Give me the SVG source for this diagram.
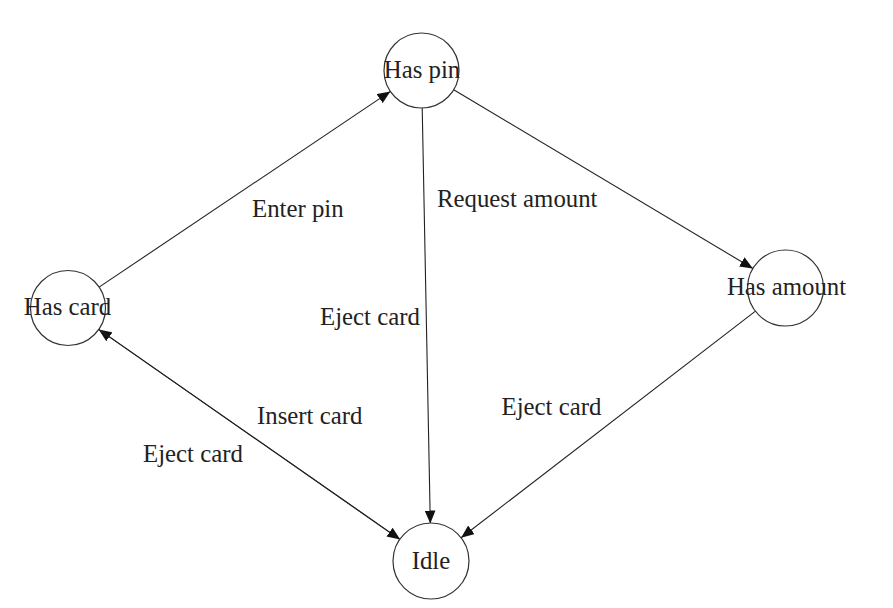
<svg xmlns="http://www.w3.org/2000/svg" width="893" height="608" viewBox="0 0 893 608">
<style>
.node circle{fill:#fff;stroke:#333;stroke-width:1.2}
text{font-family:"Liberation Serif","Times New Roman",serif;font-size:24.8px;fill:#222}
.node text{text-anchor:middle}
.edge line{stroke:#222;stroke-width:1.1;fill:none}
</style>
<defs>
<marker id="arr" markerUnits="userSpaceOnUse" markerWidth="13" markerHeight="11" refX="12" refY="5" orient="auto-start-reverse" viewBox="0 0 12 10">
<path d="M0,0 L12,5 L0,10 z" fill="#111"/>
</marker>
</defs>
<rect width="893" height="608" fill="#fff"/>
<g id="connectors" class="edge">
<line id="e-card-pin" x1="98.7" y1="287.4" x2="390.4" y2="91.4" marker-end="url(#arr)"/>
<line id="e-idle-card" x1="400.2" y1="539.6" x2="98.7" y2="329.4" marker-end="url(#arr)"/>
<line id="e-card-idle" x1="98.7" y1="329.4" x2="400.2" y2="539.6" marker-end="url(#arr)"/>
<line id="e-pin-idle" x1="422.2" y1="107.5" x2="430.3" y2="523.5" marker-end="url(#arr)"/>
<line id="e-pin-amount" x1="453.7" y1="89.7" x2="752.9" y2="268.5" marker-end="url(#arr)"/>
<line id="e-amount-idle" x1="755.8" y1="310.9" x2="461.1" y2="537.8" marker-end="url(#arr)"/>
<text x="252" y="217">Enter pin</text>
<text x="437" y="207">Request amount</text>
<text x="320" y="325">Eject card</text>
<text x="257" y="424">Insert card</text>
<text x="143" y="462">Eject card</text>
<text x="501.5" y="414.5">Eject card</text>
</g>
<g id="node-has-pin" class="node">
<circle cx="421.5" cy="70.5" r="37.5"/>
<text x="422" y="78">Has pin</text>
</g>
<g id="node-has-card" class="node">
<circle cx="68" cy="308" r="37.5"/>
<text x="67.5" y="315">Has card</text>
</g>
<g id="node-has-amount" class="node">
<circle cx="785.5" cy="288" r="38"/>
<text x="786.5" y="295">Has amount</text>
</g>
<g id="node-idle" class="node">
<circle cx="431" cy="561" r="38"/>
<text x="431" y="569">Idle</text>
</g>
</svg>
